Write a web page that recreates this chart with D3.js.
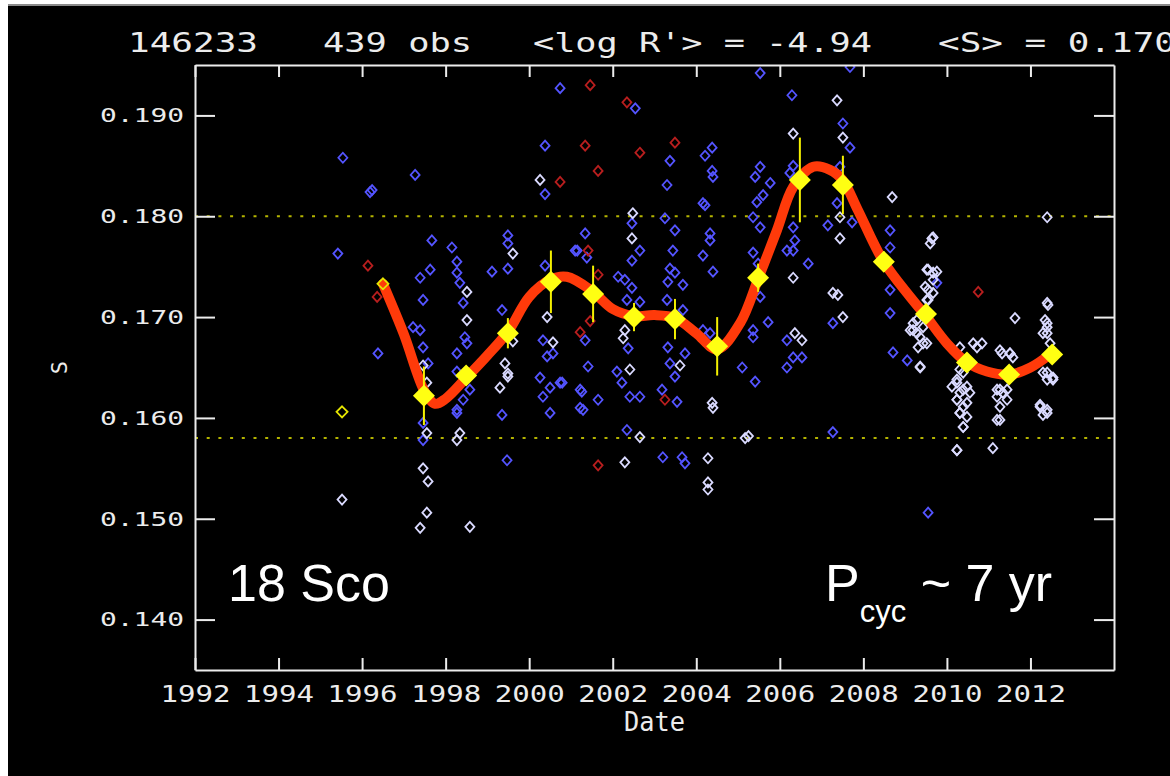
<!DOCTYPE html>
<html>
<head>
<meta charset="utf-8">
<script src="https://cdn.jsdelivr.net/npm/d3@7"></script>
<style>
  html, body { margin: 0; padding: 0; background: #fff; }
  svg { display: block; }
</style>
</head>
<body>
<svg id="chart" width="1170" height="776"></svg>
<script>
// tick labels
const xTicks = [1992, 1994, 1996, 1998, 2000, 2002, 2004, 2006, 2008, 2010, 2012];
const yTicks = [0.140, 0.150, 0.160, 0.170, 0.180, 0.190];
const limitLines = [0.180, 0.158];

// seasonal means with errors
const meanYears = [1997.48, 1998.49, 1999.49, 2000.52, 2001.53, 2002.51, 2003.49, 2004.50,
  2005.48, 2006.48, 2007.51, 2008.49, 2009.50, 2010.48, 2011.49, 2012.52];
const meanS = [0.1622, 0.1642, 0.1684, 0.1735, 0.1723, 0.1700, 0.1698, 0.1671,
  0.1739, 0.1836, 0.1831, 0.1755, 0.1703, 0.1655, 0.1643, 0.1663];
const meanErr = [0.0029, 0.0008, 0.0015, 0.0031, 0.0028, 0.0014, 0.0020, 0.0029,
  0.0014, 0.0042, 0.0029, 0.0010, 0.0008, 0.0006, 0.0005, 0.0004];

// smooth cycle fit (red)
const fitYears = [1996.5, 1997.0, 1997.5, 1997.75, 1998.0, 1998.5, 1999.0, 1999.5, 2000.0, 2000.5,
  2000.9, 2001.5, 2002.0, 2002.5, 2003.0, 2003.5, 2004.0, 2004.5, 2005.05, 2005.5, 2005.93,
  2006.32, 2006.8, 2007.2, 2007.5, 2007.87, 2008.47, 2009.12, 2009.48, 2010.0, 2010.48,
  2010.96, 2011.5, 2012.0, 2012.5];
const fitS = [0.1733, 0.1683, 0.1626, 0.1614, 0.1619, 0.1640, 0.1662, 0.1686, 0.1720, 0.1737,
  0.1740, 0.1726, 0.1708, 0.1701, 0.1702, 0.1699, 0.1684, 0.1668, 0.1694, 0.1740, 0.1786,
  0.1829, 0.1849, 0.1846, 0.1836, 0.1806, 0.1756, 0.1720, 0.1702, 0.1674, 0.1655,
  0.1646, 0.1643, 0.1650, 0.1664];

// individual observations, [year, S]
const bluePts = [
  [1995.54,0.1858],[1996.24,0.1826],[1995.42,0.1763],[1997.27,0.1841],[1996.19,0.1824],[1996.38,0.1664],
  [1997.67,0.1776],[1998.15,0.1769],[1997.63,0.1747],[1997.39,0.1739],[1997.46,0.1717],[1997.22,0.1690],
  [1997.39,0.1687],[1997.46,0.1670],[1997.58,0.1654],[1997.46,0.1595],[1997.46,0.1578],
  [1998.27,0.1755],[1998.27,0.1744],[1998.34,0.1734],[1998.42,0.1714],[1998.46,0.1680],[1998.51,0.1674],
  [1998.27,0.1664],[1998.27,0.1646],[1998.58,0.1628],[1998.42,0.1618],[1998.27,0.1608],[1998.27,0.1605],
  [1999.49,0.1781],[1999.49,0.1773],[1999.11,0.1745],[1999.49,0.1748],[1999.35,0.1707],[1999.35,0.1603],[1999.47,0.1558],
  [2000.38,0.1751],[2000.38,0.1822],[2000.38,0.1870],[2001.15,0.1766],[2001.38,0.1759],[2000.33,0.1677],
  [2000.57,0.1664],[2000.43,0.1661],[2000.26,0.1640],[2000.50,0.1630],[2000.74,0.1635],[2000.33,0.1621],
  [2000.50,0.1605],[2001.22,0.1628],[2001.22,0.1610],[2001.41,0.1651],[2001.34,0.1677],[2001.26,0.1626],
  [2001.29,0.1608],[2001.65,0.1618],[2000.79,0.1635],
  [2000.74,0.1927],[2002.54,0.1907],[2005.53,0.1942],[2006.29,0.1920],
  [2004.21,0.1860],[2004.38,0.1868],[2003.37,0.1855],[2004.38,0.1845],[2004.40,0.1839],[2003.30,0.1831],[2004.16,0.1813],
  [2005.53,0.1849],[2005.41,0.1839],[2005.77,0.1833],[2005.60,0.1821],[2005.45,0.1814],[2006.32,0.1850],[2006.24,0.1843],
  [2002.46,0.1793],[2001.34,0.1783],[2001.10,0.1766],[2002.65,0.1766],[2002.46,0.1756],[2002.13,0.1740],
  [2002.29,0.1737],[2002.46,0.1729],[2002.34,0.1717],[2002.65,0.1715],[2002.37,0.1669],[2002.10,0.1646],
  [2002.22,0.1635],[2002.41,0.1621],[2002.65,0.1621],[2002.34,0.1588],
  [2003.49,0.1786],[2003.25,0.1798],[2003.44,0.1766],[2003.37,0.1748],[2003.49,0.1744],[2003.32,0.1735],
  [2003.68,0.1732],[2003.30,0.1717],[2003.68,0.1707],[2003.32,0.1670],[2003.73,0.1664],[2003.37,0.1654],
  [2003.49,0.1641],[2003.18,0.1628],[2003.54,0.1616],[2003.20,0.1561],[2003.66,0.1561],[2003.73,0.1555],
  [2004.21,0.1811],[2004.33,0.1783],[2004.33,0.1776],[2004.16,0.1761],[2004.40,0.1745],[2004.16,0.1687],[2004.33,0.1684],
  [2005.36,0.1687],[2005.10,0.1650],[2005.41,0.1636],[2005.72,0.1695],[2005.36,0.1680],[2005.36,0.1799],
  [2005.53,0.1789],[2005.36,0.1764],[2005.48,0.1753],[2005.53,0.1720],[2006.17,0.1766],[2006.32,0.1789],
  [2006.36,0.1776],[2006.32,0.1766],[2006.17,0.1677],[2006.32,0.1660],[2006.17,0.1650],
  [2007.51,0.1892],[2007.68,0.1868],[2007.44,0.1849],[2007.37,0.1813],[2007.73,0.1794],[2007.15,0.1791],
  [2006.68,0.1753],[2007.27,0.1694],[2006.53,0.1660],
  [2008.64,0.1786],[2008.64,0.1769],[2008.64,0.1727],[2008.64,0.1704],[2008.71,0.1665],[2009.05,0.1657],[2007.27,0.1586],
  [2009.76,0.1734],[2009.55,0.1506],[2007.68,0.1948]
];
const whitePts = [
  [1995.52,0.1519],[1997.46,0.1652],[1997.55,0.1635],[1997.55,0.1585],[1997.46,0.1550],[1997.58,0.1537],
  [1997.55,0.1506],[1997.39,0.1491],
  [1998.51,0.1725],[1998.51,0.1697],[1998.34,0.1585],[1998.27,0.1578],[1998.58,0.1492],
  [1999.61,0.1763],[1999.61,0.1676],[1999.42,0.1654],[1999.49,0.1644],[1999.30,0.1630],[1999.49,0.1641],
  [2000.43,0.1700],[2000.57,0.1675],[2000.26,0.1836],
  [2006.32,0.1882],[2002.48,0.1803],[2002.46,0.1778],[2002.29,0.1687],[2002.25,0.1679],[2002.41,0.1648],
  [2002.65,0.1581],[2002.29,0.1556],
  [2003.61,0.1652],[2004.38,0.1615],[2004.40,0.1610],[2004.28,0.1560],[2004.28,0.1536],[2004.28,0.1529],
  [2005.17,0.1580],[2005.25,0.1582],[2006.32,0.1739],[2006.36,0.1684],
  [2007.37,0.1915],[2007.51,0.1878],[2007.44,0.1799],[2007.44,0.1778],[2007.27,0.1724],[2007.39,0.1722],
  [2007.51,0.1700],[2006.53,0.1677],
  [2008.69,0.1819],[2009.36,0.1650],[2009.64,0.1778],[2009.55,0.1747],[2009.67,0.1744],[2009.55,0.1727],
  [2009.52,0.1717],[2009.19,0.1694],[2009.28,0.1684],[2009.43,0.1674],[2009.12,0.1687],
  [2009.67,0.1779],[2009.60,0.1773],[2009.52,0.1747],[2009.76,0.1745],[2009.67,0.1737],[2009.48,0.1730],
  [2009.67,0.1724],[2009.55,0.1717],[2009.28,0.1697],[2009.43,0.1690],[2009.36,0.1680],[2009.52,0.1674],
  [2009.19,0.1687],[2009.31,0.1670],[2009.36,0.1651],
  [2010.31,0.1648],[2010.24,0.1635],[2010.39,0.1628],[2010.24,0.1618],[2010.48,0.1615],[2010.31,0.1605],
  [2010.39,0.1591],[2010.24,0.1568],[2010.63,0.1674],[2010.84,0.1674],
  [2010.31,0.1670],[2010.39,0.1645],[2010.24,0.1638],[2010.48,0.1631],[2010.31,0.1625],[2010.55,0.1625],
  [2010.24,0.1618],[2010.39,0.1611],[2010.31,0.1605],[2010.48,0.1601],[2010.39,0.1591],[2010.24,0.1568],
  [2010.72,0.1670],[2010.12,0.1631],
  [2011.10,0.1570],[2011.32,0.1664],[2011.51,0.1664],[2011.63,0.1699],[2011.27,0.1628],[2011.44,0.1628],
  [2011.27,0.1598],[2011.20,0.1621],
  [2011.27,0.1667],[2011.51,0.1664],[2011.58,0.1660],[2011.20,0.1628],[2011.34,0.1625],[2011.44,0.1618],
  [2011.27,0.1611],[2011.20,0.1598],
  [2012.42,0.1712],[2012.40,0.1694],[2012.40,0.1684],[2012.40,0.1645],[2012.54,0.1638],[2012.23,0.1611],
  [2012.40,0.1605],[2012.40,0.1799],
  [2012.40,0.1714],[2012.35,0.1697],[2012.40,0.1690],[2012.30,0.1684],[2012.47,0.1674],[2012.30,0.1645],
  [2012.54,0.1640],[2012.40,0.1638],[2012.23,0.1613],[2012.40,0.1608],[2012.30,0.1603]
];
const redPts = [
  [1996.14,0.1751],[1996.36,0.1720],[2000.74,0.1834],[2001.41,0.1766],[2001.65,0.1742],[2001.22,0.1685],
  [2001.46,0.1696],[2001.46,0.1930],[2002.34,0.1913],[2001.34,0.1870],[2001.65,0.1845],[2002.65,0.1863],
  [2003.49,0.1873],[2003.25,0.1618],[2001.65,0.1553],[2010.75,0.1725]
];
const yellowPts = [[1996.5,0.1733],[1995.52,0.1606]];

const svg = d3.select('#chart');
const W = 1170, H = 776;
const plot = {left: 195, right: 1114, top: 65, bottom: 670};
const fg = '#ececec';
const mono = '"DejaVu Sans Mono", monospace';

// page background: black panel with light edges
svg.append('rect').attr('x', 0).attr('y', 0).attr('width', W).attr('height', H).attr('fill', '#fff');
svg.append('rect').attr('x', 8).attr('y', 4).attr('width', W - 8).attr('height', H - 4).attr('fill', '#000');
svg.append('line').attr('x1', 8).attr('x2', W).attr('y1', 5).attr('y2', 5)
  .attr('stroke', '#8a8a8a').attr('stroke-width', 2);

const x = d3.scaleLinear().domain([1992, 2014]).range([plot.left, plot.right]);
const y = d3.scaleLinear().domain([0.135, 0.195]).range([plot.bottom, plot.top]);

svg.append('clipPath').attr('id', 'clip').append('rect')
  .attr('x', plot.left).attr('y', plot.top)
  .attr('width', plot.right - plot.left).attr('height', plot.bottom - plot.top);

// activity limits
svg.append('g').selectAll('line').data(limitLines).join('line')
  .attr('x1', plot.left).attr('x2', plot.right)
  .attr('y1', d => y(d)).attr('y2', d => y(d))
  .attr('stroke', '#b4b400').attr('stroke-width', 2)
  .attr('stroke-dasharray', '3,8.7');

// observations
const small = 'M0,-5L4.5,0L0,5L-4.5,0Z';
const obs = svg.append('g').attr('clip-path', 'url(#clip)').attr('fill', 'none').attr('stroke-width', 1.8);
function drawPts(data, color) {
  return obs.append('g').attr('stroke', color).selectAll('path').data(data).join('path')
    .attr('d', small)
    .attr('transform', d => `translate(${x(d[0])},${y(d[1])})`);
}
drawPts(bluePts, '#5454ff');
drawPts(redPts, '#b81e1e');
drawPts(whitePts, '#dadaff');

// fit curve
const fit = fitYears.map((yr, i) => [yr, fitS[i]]);
svg.append('path').datum(fit)
  .attr('d', d3.line().x(d => x(d[0])).y(d => y(d[1])).curve(d3.curveCatmullRom.alpha(0.5)))
  .attr('fill', 'none').attr('stroke', '#ff3a0a').attr('stroke-width', 10)
  .attr('stroke-linecap', 'round').attr('stroke-linejoin', 'round');

// open yellow markers sit on top of the curve start
svg.append('g').attr('fill', 'none').attr('stroke', '#e6e600').attr('stroke-width', 1.8)
  .selectAll('path').data(yellowPts).join('path')
  .attr('d', 'M0,-5.5L5.5,0L0,5.5L-5.5,0Z')
  .attr('transform', d => `translate(${x(d[0])},${y(d[1])})`);

// seasonal means
const means = meanYears.map((yr, i) => ({yr, s: meanS[i], e: meanErr[i]}));
svg.append('g').selectAll('line').data(means).join('line')
  .attr('x1', d => x(d.yr)).attr('x2', d => x(d.yr))
  .attr('y1', d => y(d.s - d.e)).attr('y2', d => y(d.s + d.e))
  .attr('stroke', '#f4f000').attr('stroke-width', 2);
svg.append('g').selectAll('path').data(means).join('path')
  .attr('d', 'M0,-11L11,0L0,11L-11,0Z')
  .attr('transform', d => `translate(${x(d.yr)},${y(d.s)})`)
  .attr('fill', '#ffff12');

// axes (ticks point inward, frame drawn by the four domains)
function styleAxis(g) {
  g.selectAll('.domain').attr('stroke', fg).attr('stroke-width', 2);
  g.selectAll('.tick line').attr('stroke', fg).attr('stroke-width', 2);
}
const gx = svg.append('g').attr('transform', `translate(0,${plot.bottom})`)
  .call(d3.axisBottom(x).tickValues(xTicks).tickFormat(d3.format('d')).tickSize(-12).tickSizeOuter(0).tickPadding(16))
  .call(styleAxis);
gx.selectAll('text').attr('fill', fg).style('font-family', mono).style('font-size', '23px')
  .attr('textLength', 70).attr('lengthAdjust', 'spacingAndGlyphs');

svg.append('g').attr('transform', `translate(0,${plot.top})`)
  .call(d3.axisTop(x).tickValues(xTicks).tickFormat('').tickSize(-12).tickSizeOuter(0))
  .call(styleAxis);

const gy = svg.append('g').attr('transform', `translate(${plot.left},0)`)
  .call(d3.axisLeft(y).tickValues(yTicks).tickFormat(d3.format('.3f')).tickSize(-20).tickSizeOuter(0).tickPadding(11))
  .call(styleAxis);
gy.selectAll('text').attr('fill', fg).style('font-family', mono).style('font-size', '20px')
  .attr('textLength', 84).attr('lengthAdjust', 'spacingAndGlyphs');

svg.append('g').attr('transform', `translate(${plot.right},0)`)
  .call(d3.axisRight(y).tickValues(yTicks).tickFormat('').tickSize(-20).tickSizeOuter(0))
  .call(styleAxis);

// axis titles
svg.append('text').attr('x', (plot.left + plot.right) / 2).attr('y', 731)
  .attr('text-anchor', 'middle').attr('fill', fg)
  .style('font-family', mono).style('font-size', '26px')
  .attr('textLength', 61).attr('lengthAdjust', 'spacingAndGlyphs')
  .text('Date');
svg.append('text').attr('transform', `translate(67,${(plot.top + plot.bottom) / 2}) rotate(-90)`)
  .attr('text-anchor', 'middle').attr('fill', fg)
  .style('font-family', mono).style('font-size', '22px')
  .text('S');

// header line
const header = [
  {t: '146233', x: 128, w: 130},
  {t: '439 obs', x: 323, w: 149},
  {t: "<log R'> = -4.94", x: 533, w: 339},
  {t: '<S> = 0.170', x: 938, w: 238}
];
svg.append('g').selectAll('text').data(header).join('text')
  .attr('x', d => d.x).attr('y', 52)
  .attr('fill', fg).style('font-family', mono).style('font-size', '27px')
  .attr('textLength', d => d.w).attr('lengthAdjust', 'spacingAndGlyphs')
  .text(d => d.t);

// labels on the plot
const sans = '"Liberation Sans", Arial, sans-serif';
svg.append('text').attr('x', 228).attr('y', 601).attr('fill', '#fff')
  .style('font-family', sans).style('font-size', '52px').text('18 Sco');
const pc = svg.append('text').attr('x', 825).attr('y', 601).attr('fill', '#fff')
  .style('font-family', sans).style('font-size', '52px');
pc.append('tspan').text('P');
pc.append('tspan').attr('dy', 21).style('font-size', '31px').text('cyc');
pc.append('tspan').attr('dy', -21).text(' ~ 7 yr');
</script>
</body>
</html>
